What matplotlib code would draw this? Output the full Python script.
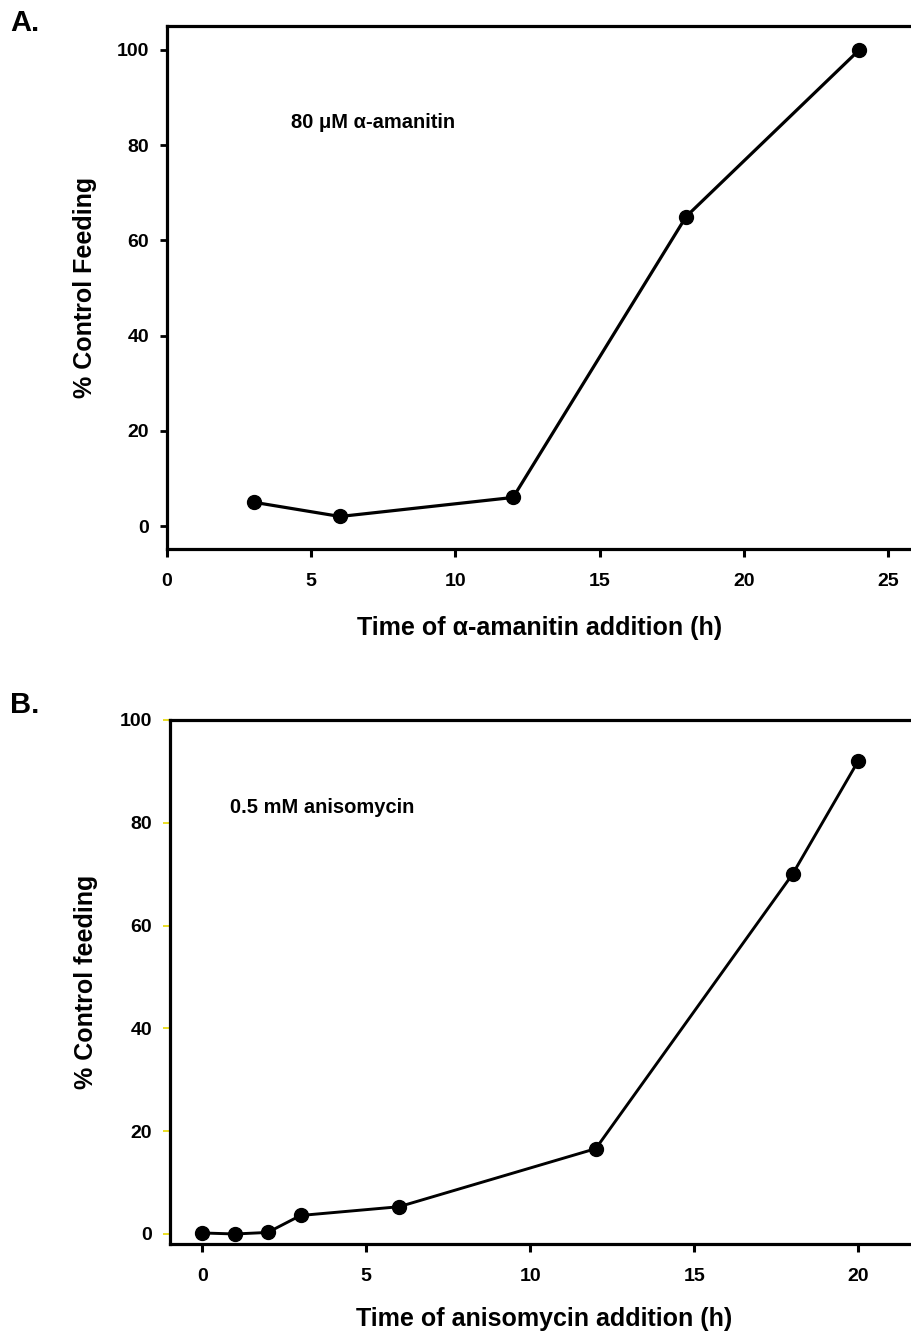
import matplotlib.pyplot as plt

plt.rcParams['font.family'] = ['Liberation Sans', 'DejaVu Sans']
plt.rcParams['font.weight'] = 'bold'

# panel A: alpha-amanitin
time_a = [3, 6, 12, 18, 24]
feed_a = [5, 2, 6, 65, 100]
xticks_a = [0, 5, 10, 15, 20, 25]
yticks_a = [0, 20, 40, 60, 80, 100]

# panel B: anisomycin
time_b = [0, 1, 2, 3, 6, 12, 18, 20]
feed_b = [0.2, 0.0, 0.3, 3.6, 5.3, 16.6, 70, 92]
xticks_b = [0, 5, 10, 15, 20]
yticks_b = [0, 20, 40, 60, 80, 100]

W, H = 912, 1337
fig = plt.figure(figsize=(W / 100, H / 100), dpi=100)


def px_axes(left, top, right, bottom):
    return fig.add_axes([left / W, 1 - bottom / H, (right - left) / W, (bottom - top) / H])


def style(ax, ytick_color):
    ax.spines['right'].set_visible(False)
    for s in ['left', 'bottom', 'top']:
        ax.spines[s].set_linewidth(2.3)
    ax.tick_params(axis='x', direction='out', length=6, width=2.2, labelsize=14, pad=11)
    ax.tick_params(axis='y', direction='out', length=5, width=2.0 if ytick_color == 'black' else 1.2,
                   color=ytick_color, labelsize=14, pad=8)
    for lab in ax.get_xticklabels() + ax.get_yticklabels():
        lab.set_fontweight('bold')


# --- A ---
axA = px_axes(167, 26, 912, 549)
axA.plot(time_a, feed_a, color='black', lw=2.3, marker='o', ms=10, clip_on=False)
axA.set_xlim(0, (912 - 167) / 28.84)
axA.set_ylim(-4.83, 105.04)
axA.set_xticks(xticks_a)
axA.set_yticks(yticks_a)
style(axA, 'black')
axA.text(291 / W, 1 - 122 / H, '80 \u03bcM \u03b1-amanitin', transform=fig.transFigure,
         fontsize=14.5, fontweight='bold', va='center', ha='left')

# --- B ---
axB = px_axes(170, 720, 912, 1244)
axB.plot(time_b, feed_b, color='black', lw=2.1, marker='o', ms=10, clip_on=False)
axB.set_xlim(-0.98, -0.98 + (912 - 170) / 32.8)
axB.set_ylim(-1.95, 100)
axB.set_xticks(xticks_b)
axB.set_yticks(yticks_b)
style(axB, '#e6d800')
axB.text(230 / W, 1 - 808 / H, '0.5 mM anisomycin', transform=fig.transFigure,
         fontsize=14.5, fontweight='bold', va='center', ha='left')

# labels
fig.text(540 / W, 1 - 628 / H, 'Time of \u03b1-amanitin addition (h)', ha='center', va='center',
         fontsize=18, fontweight='bold')
fig.text(85 / W, 1 - 287 / H, '% Control Feeding', ha='center', va='center', rotation=90,
         fontsize=18, fontweight='bold')
fig.text(544 / W, 1 - 1319 / H, 'Time of anisomycin addition (h)', ha='center', va='center',
         fontsize=18, fontweight='bold')
fig.text(86 / W, 1 - 982 / H, '% Control feeding', ha='center', va='center', rotation=90,
         fontsize=18, fontweight='bold')
fig.text(10 / W, 1 - 23 / H, 'A.', ha='left', va='center', fontsize=21, fontweight='bold')
fig.text(10 / W, 1 - 705 / H, 'B.', ha='left', va='center', fontsize=21, fontweight='bold')

fig.savefig('out.png', dpi=100)
